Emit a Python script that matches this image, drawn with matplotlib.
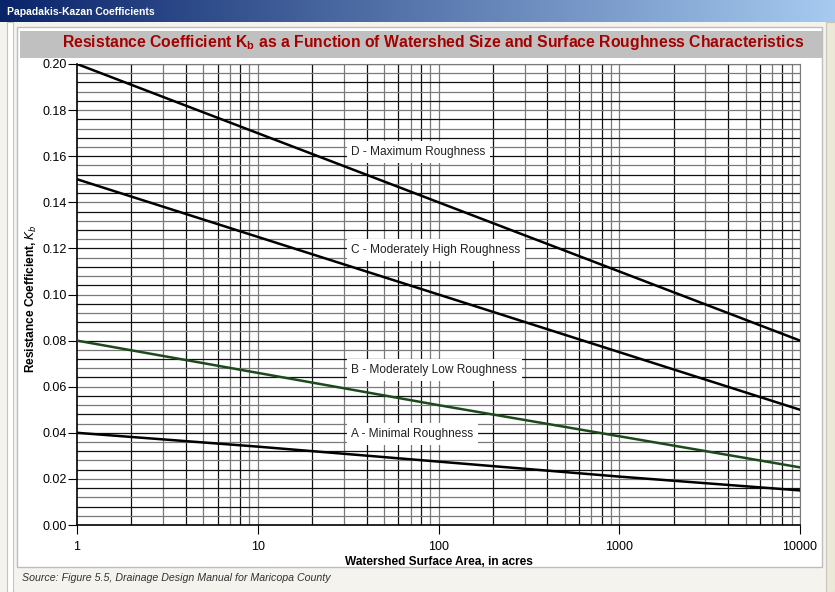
import numpy as np
import matplotlib.pyplot as plt
from matplotlib.patches import Rectangle
from matplotlib.colors import LinearSegmentedColormap
from matplotlib.ticker import FixedLocator, NullLocator

plt.rcParams['font.family'] = ['Liberation Sans', 'DejaVu Sans']

# Data (value at each decade of watershed area)
area = [1, 10, 100, 1000, 10000]
kb_a = [0.040, 0.034, 0.0275, 0.021, 0.015]
kb_b = [0.080, 0.066, 0.052, 0.0385, 0.025]
kb_c = [0.150, 0.125, 0.100, 0.075, 0.050]
kb_d = [0.200, 0.170, 0.140, 0.110, 0.080]
series = [kb_a, kb_b, kb_c, kb_d]
names = ['A - Minimal Roughness', 'B - Moderately Low Roughness',
         'C - Moderately High Roughness', 'D - Maximum Roughness']
colors = ['black', '#1c4a1c', 'black', 'black']
label_y = [0.0395, 0.0672, 0.1193, 0.1618]
label_x = 33

fig = plt.figure(figsize=(8.35, 5.92), dpi=100)
fig.patch.set_facecolor('white')
W, H = 835, 592

def px_rect(x0, y0, x1, y1, **kw):
    fig.patches.append(Rectangle((x0 / W, 1 - y1 / H), (x1 - x0) / W, (y1 - y0) / H,
                                 transform=fig.transFigure, figure=fig, **kw))

# window chrome
grad = np.linspace(0, 1, 256).reshape(1, -1)
gax = fig.add_axes([0, 1 - 22 / H, 1, 22 / H])
cmap = LinearSegmentedColormap.from_list('tb', ['#0a246a', '#a6caf0'])
gax.imshow(grad, aspect='auto', cmap=cmap, extent=[0, 1, 0, 1])
gax.set_axis_off()
gax.text(0.008, 0.45, 'Papadakis-Kazan Coefficients', color='white', fontsize=7.5,
         fontweight='bold', va='center', ha='left', transform=gax.transAxes)

px_rect(0, 22, W, H, facecolor='#f4f3ee', edgecolor='none', zorder=-5)
px_rect(7, 22, 13, H, facecolor='#ffffff', edgecolor='#c8c4b8', lw=0.8, zorder=-4)
px_rect(17, 27, 822, 567, facecolor='white', edgecolor='#bdbdbd', lw=1, zorder=-3)
px_rect(20, 31, 822, 58, facecolor='#c0c0c0', edgecolor='none', zorder=-2)
px_rect(826, 22, W, H, facecolor='#ece9d8', edgecolor='#c8c4b8', lw=0.8, zorder=-2)

fig.text(433 / W, 1 - 43 / H,
         r'Resistance Coefficient K$_\mathregular{b}$ as a Function of Watershed Size and Surface Roughness Characteristics',
         color='#a50000', fontsize=11.3, fontweight='bold', ha='center', va='center')
fig.text(22 / W, 1 - 578 / H, 'Source: Figure 5.5, Drainage Design Manual for Maricopa County',
         fontsize=7.7, style='italic', color='#333333', ha='left', va='center')

ax = fig.add_axes([77 / W, 1 - 525 / H, 723 / W, 461 / H])
ax.set_xscale('log')
ax.set_xlim(1, 10000)
ax.set_ylim(0, 0.20)

# grid
for dec in [1, 10, 100, 1000]:
    for m in range(1, 10):
        x = dec * m
        if x > 1:
            c = '#7a7a7a' if m in (1, 3, 5, 7, 9) else '#111111'
            ax.axvline(x, color=c, lw=0.9, zorder=1)
ax.axvline(10000, color='#7a7a7a', lw=0.9, zorder=1)
for i, yv in enumerate(np.arange(0.004, 0.2001, 0.004)):
    c = '#7a7a7a' if i % 2 == 0 else '#111111'
    ax.axhline(yv, color=c, lw=0.9, zorder=1)

for s, col in zip(series, colors):
    ax.plot(area, s, color=col, lw=1.8, zorder=3)

for name, yv in zip(names, label_y):
    ax.text(label_x, yv, name, fontsize=8.6, color='#222222', ha='left', va='center', zorder=4,
            bbox=dict(boxstyle='square,pad=0.4', facecolor='white', edgecolor='none'))

ax.xaxis.set_major_locator(FixedLocator(area))
ax.xaxis.set_minor_locator(NullLocator())
ax.set_xticklabels(['1', '10', '100', '1000', '10000'])
ax.set_yticks(np.arange(0, 0.201, 0.02))
ax.set_yticklabels(['%.2f' % v for v in np.arange(0, 0.201, 0.02)])
ax.tick_params(labelsize=9, length=6.5, width=0.8, direction='out', colors='black', pad=1)
ax.tick_params(axis='x', pad=5)
for sp in ['top', 'right']:
    ax.spines[sp].set_color('#7a7a7a')
for sp in ['left', 'bottom']:
    ax.spines[sp].set_color('black')
    ax.spines[sp].set_linewidth(1.2)

ax.set_xlabel('Watershed Surface Area, in acres', fontsize=8.6, fontweight='bold', labelpad=2)
ax.set_ylabel(r'Resistance Coefficient, $K_b$', fontsize=8.6, fontweight='bold')
ax.yaxis.set_label_coords(-0.0526, 0.49)

fig.savefig('out.png', dpi=100)
